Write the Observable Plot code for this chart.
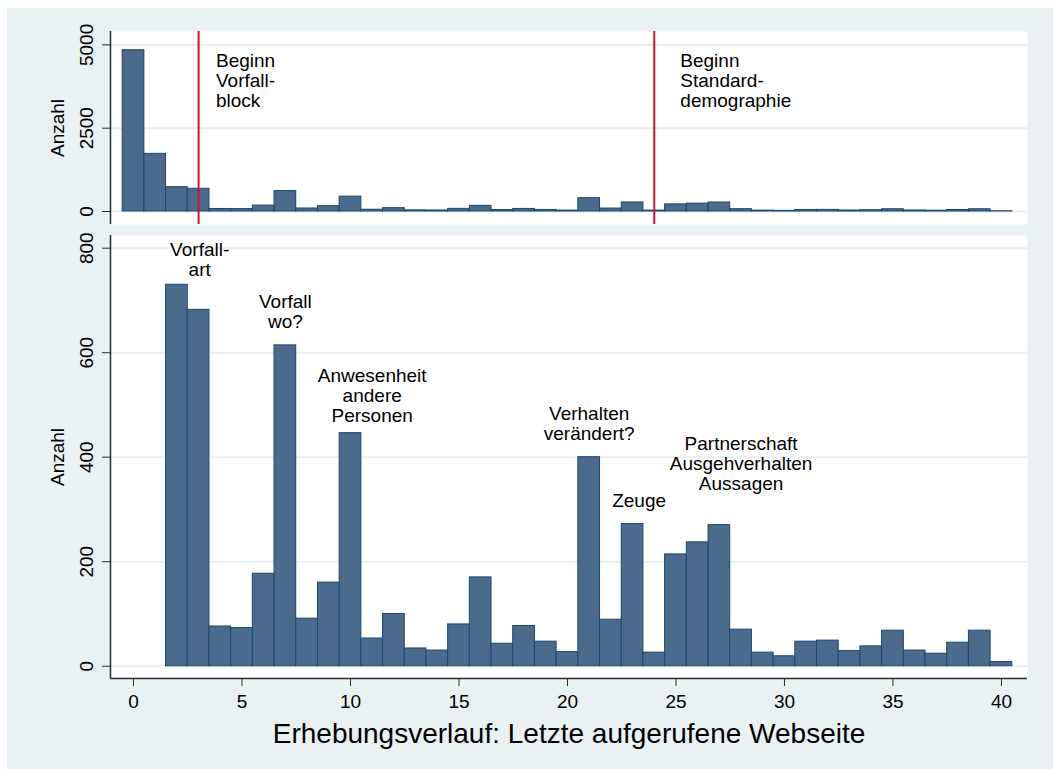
<!DOCTYPE html>
<html><head><meta charset="utf-8">
<script src="https://cdn.jsdelivr.net/npm/d3@7"></script>
<script src="https://cdn.jsdelivr.net/npm/@observablehq/plot@0.6"></script>
<style>
html,body{margin:0;padding:0;background:#fff;overflow:hidden;}
#wrap{position:relative;width:1053px;height:769px;overflow:hidden;}
#bg{position:absolute;left:7px;top:8px;right:0;bottom:0;background:#e9f1f3;}
#top,#bot{position:absolute;left:0;}
#top{top:0px}
#bot{top:230px}
</style></head>
<body><div id="wrap"><div id="bg"></div><div id="top"></div><div id="bot"></div></div>
<script>
// Data: last visited web page (bin) and number of cases (Anzahl)
const bins   = [0,1,2,3,4,5,6,7,8,9,10,11,12,13,14,15,16,17,18,19,20,21,22,23,24,25,26,27,28,29,30,31,32,33,34,35,36,37,38,39,40];
const counts = [4840,1730,730,682,76,73,177,614,91,160,446,53,100,34,30,80,170,43,77,47,27,400,89,272,26,214,237,270,70,26,19,47,49,29,38,68,30,24,45,68,8];

const xTicks = [0,5,10,15,20,25,30,35,40];
const topTicks = [0,2500,5000];
const botTicks = [0,200,400,600,800];

const markerLines = [3,24];
const topLabels = ["Beginn\nVorfall-\nblock", "Beginn\nStandard-\ndemographie"];
const topLabelX = [3.8, 25.2];
const topLabelY = [3150, 3150];

const annLabels = ["Vorfall-\nart","Vorfall\nwo?","Anwesenheit\nandere\nPersonen","Verhalten\nverändert?","Zeuge","Partnerschaft\nAusgehverhalten\nAussagen"];
const annX = [3.05, 7, 11, 21, 23.3, 28];
const annY = [746, 648, 467, 432, 304, 338];

const yTitle = "Anzahl";
const xTitle = "Erhebungsverlauf: Letzte aufgerufene Webseite";

// Tables built from arrays
const all = bins.map((b,i)=>({bin:b, count:counts[i]}));
const zoomed = all.filter(d=>d.bin>=2);
const topAnn = topLabels.map((t,i)=>({text:t, x:topLabelX[i], y:topLabelY[i]}));
const botAnn = annLabels.map((t,i)=>({text:t, x:annX[i], y:annY[i]}));

const fontFamily = "'Liberation Sans', Arial, Helvetica, sans-serif";
const barFill = "#4a6b8c", barStroke = "#1a476f";
const gridColor = "#e7eff1", axisColor = "#2a2a2a", redColor = "#d0103a";
const W = 1053;
const xDomain = [-1.06, 41.2];
const topY = [-390, 5402];
const botY = [-23.5, 824.3];
const lh = 20/19;

const topPlot = Plot.plot({
  width: W, height: 230,
  marginLeft: 110, marginRight: 26, marginTop: 31, marginBottom: 6,
  x: {domain: xDomain, axis: null},
  y: {domain: topY, axis: null},
  style: {background: "transparent", fontFamily, fontSize: "19px", color: "#000", overflow: "visible"},
  marks: [
    Plot.frame({fill: "white", stroke: null}),
    Plot.ruleY(topTicks, {stroke: gridColor, strokeWidth: 2}),
    Plot.rectY(all, {x1: d=>d.bin-0.5, x2: d=>d.bin+0.5, y1: 0, y2: "count", fill: barFill, stroke: barStroke, strokeWidth: 1}),
    Plot.ruleX(markerLines, {stroke: redColor, strokeWidth: 2}),
    Plot.ruleX([xDomain[0]], {stroke: axisColor, strokeWidth: 1.5}),
    Plot.axisY({ticks: topTicks, tickSize: 8, tickFormat: () => "", label: null, stroke: axisColor}),
    Plot.text(topTicks, {y: d=>d, text: d=>String(d), frameAnchor: "left", dx: -18, rotate: -90, lineAnchor: "bottom", textAnchor: "middle", fontSize: 19, fill: "#000"}),
    Plot.text([yTitle], {text: d=>d, frameAnchor: "left", dx: -46.7, rotate: -90, lineAnchor: "bottom", textAnchor: "middle", fontSize: 19, fill: "#000"}),
    Plot.text(topAnn, {x: "x", y: "y", text: "text", textAnchor: "start", lineAnchor: "bottom", lineHeight: lh, fontSize: 19, fill: "#000"})
  ]
});
document.getElementById("top").appendChild(topPlot);

const botPlot = Plot.plot({
  width: W, height: 539,
  marginLeft: 110, marginRight: 26, marginTop: 5, marginBottom: 91,
  x: {domain: xDomain, axis: null},
  y: {domain: botY, axis: null},
  style: {background: "transparent", fontFamily, fontSize: "19px", color: "#000", overflow: "visible"},
  marks: [
    Plot.frame({fill: "white", stroke: null}),
    Plot.ruleY(botTicks, {stroke: gridColor, strokeWidth: 2}),
    Plot.rectY(zoomed, {x1: d=>d.bin-0.5, x2: d=>d.bin+0.5, y1: 0, y2: "count", fill: barFill, stroke: barStroke, strokeWidth: 1}),
    Plot.ruleX([xDomain[0]], {stroke: axisColor, strokeWidth: 1.5}),
    Plot.ruleY([botY[0]], {stroke: axisColor, strokeWidth: 1.5}),
    Plot.axisY({ticks: botTicks, tickSize: 8, tickFormat: () => "", label: null, stroke: axisColor}),
    Plot.text(botTicks, {y: d=>d, text: d=>String(d), frameAnchor: "left", dx: -18, rotate: -90, lineAnchor: "bottom", textAnchor: "middle", fontSize: 19, fill: "#000"}),
    Plot.text([yTitle], {text: d=>d, frameAnchor: "left", dx: -46.7, rotate: -90, lineAnchor: "bottom", textAnchor: "middle", fontSize: 19, fill: "#000"}),
    Plot.axisX({ticks: xTicks, tickSize: 8, tickPadding: 7.5, fontSize: 19, label: null, stroke: axisColor, fill: "#000"}),
    Plot.text([xTitle], {text: d=>d, frameAnchor: "bottom", dy: 64.7, lineAnchor: "bottom", textAnchor: "middle", fontSize: 28, fill: "#000"}),
    Plot.text(botAnn, {x: "x", y: "y", text: "text", textAnchor: "middle", lineAnchor: "bottom", lineHeight: lh, fontSize: 19, fill: "#000"})
  ]
});
document.getElementById("bot").appendChild(botPlot);
</script>
</body></html>
